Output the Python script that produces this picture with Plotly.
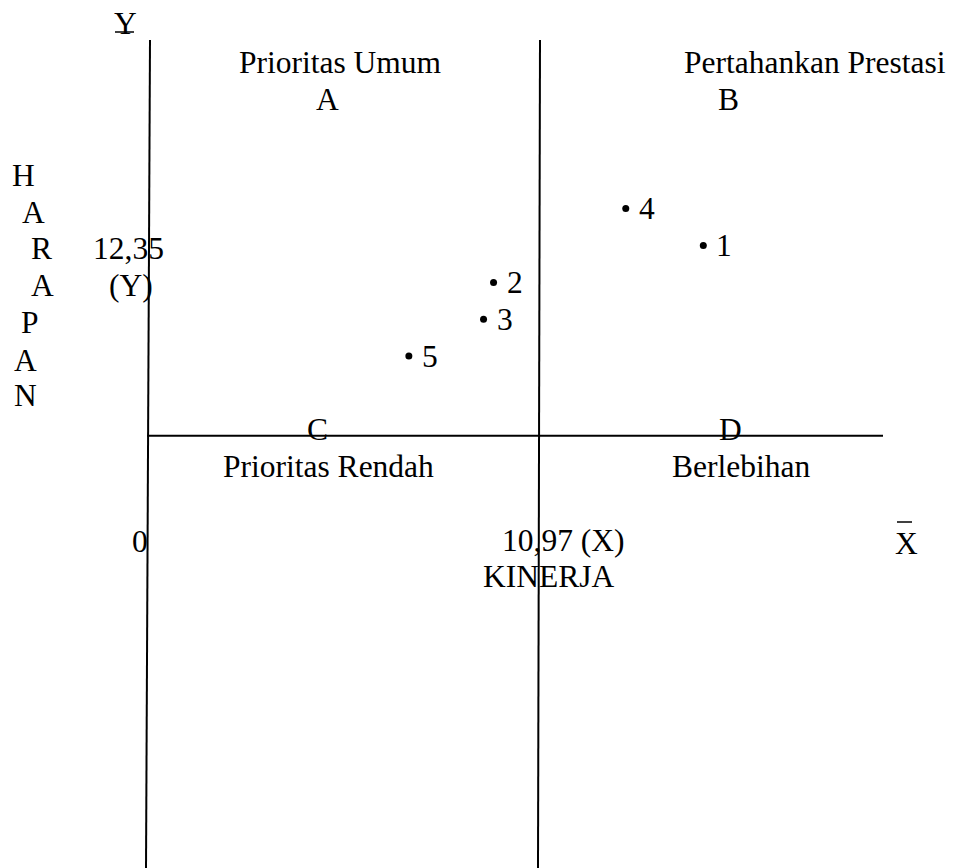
import plotly.graph_objects as go

# ---- data ----
attr_labels = ["1", "2", "3", "4", "5"]
kinerja = [15.54, 9.67, 9.39, 13.37, 7.30]      # X (performance)
harapan = [17.67, 16.64, 15.61, 18.71, 14.58]   # Y (importance)
x_mean = 10.97
y_mean = 12.35
quadrant_titles = ["Prioritas Umum", "Pertahankan Prestasi", "Prioritas Rendah", "Berlebihan"]
quadrant_letters = ["A", "B", "C", "D"]
y_title_letters = ["H", "A", "R", "A", "P", "A", "N"]

W, H = 953, 868
FONT = "Liberation Serif, Times New Roman, serif"
FS = 31.5

# diagram scale: x=0 at pixel 148, x=10.97 at pixel 540
S = (540 - 148) / x_mean
X0PX = 148
YMPX = 435.7
xmin = -X0PX / S
xmax = (W - X0PX) / S
ymax = y_mean + YMPX / S
ymin = y_mean - (H - YMPX) / S


def dx(px):
    return (px - X0PX) / S


def dy(py):
    return y_mean + (YMPX - py) / S


fig = go.Figure()

fig.add_trace(go.Scatter(
    x=kinerja, y=harapan, mode="markers",
    marker=dict(color="black", size=7),
    hoverinfo="skip", showlegend=False,
))
for lab, xv, yv in zip(attr_labels, kinerja, harapan):
    fig.add_annotation(x=xv, y=yv, text=lab, showarrow=False,
                       xanchor="left", yanchor="middle", xshift=11,
                       font=dict(family=FONT, size=FS, color="black"))

line = dict(color="black", width=2)
top = dy(40)
# axes / quadrant lines
fig.add_shape(type="line", x0=dx(150), y0=top, x1=dx(146), y1=ymin, line=line)
fig.add_shape(type="line", x0=x_mean, y0=top, x1=dx(538), y1=ymin, line=line)
fig.add_shape(type="line", x0=dx(147), y0=y_mean, x1=dx(883), y1=y_mean, line=line)
# stroke on the top "Y" and bar over "X"
fig.add_shape(type="line", x0=dx(115), y0=dy(32), x1=dx(134), y1=dy(32), line=dict(color="black", width=1.5))
fig.add_shape(type="line", x0=dx(897), y0=dy(522), x1=dx(912), y1=dy(522), line=dict(color="black", width=1.5))


def txt(s, px, py, xanchor="center"):
    fig.add_annotation(x=dx(px), y=dy(py), text=s, showarrow=False,
                       xanchor=xanchor, yanchor="middle",
                       font=dict(family=FONT, size=FS, color="black"))


txt(quadrant_titles[0], 340, 62)
txt(quadrant_letters[0], 327.5, 99)
txt(quadrant_titles[1], 815, 62)
txt(quadrant_letters[1], 728, 99)
txt(quadrant_letters[2], 317.5, 429)
txt(quadrant_titles[2], 328, 466)
txt(quadrant_letters[3], 730, 429)
txt(quadrant_titles[3], 741, 466)

txt("Y", 125, 23)
txt("X", 906, 543)
txt("0", 140, 541)
txt("10,97 (X)", 562.5, 540)
txt("KINERJA", 548, 576)
txt("12,35", 128, 248)
txt("(Y)", 131, 285)

ht_pos = [(23, 175), (33, 212), (41, 248), (42, 285), (30, 322), (25, 360), (25, 395)]
for ch, (px, py) in zip(y_title_letters, ht_pos):
    txt(ch, px, py)

fig.update_layout(
    width=W, height=H,
    margin=dict(l=0, r=0, t=0, b=0),
    paper_bgcolor="white", plot_bgcolor="white",
    xaxis=dict(range=[xmin, xmax], visible=False, fixedrange=True),
    yaxis=dict(range=[ymin, ymax], visible=False, fixedrange=True),
    font=dict(family=FONT, color="black"),
)

fig.write_html("out.html", config={"displayModeBar": False},
               post_script="document.body.style.margin='0';document.body.style.overflow='hidden';")
